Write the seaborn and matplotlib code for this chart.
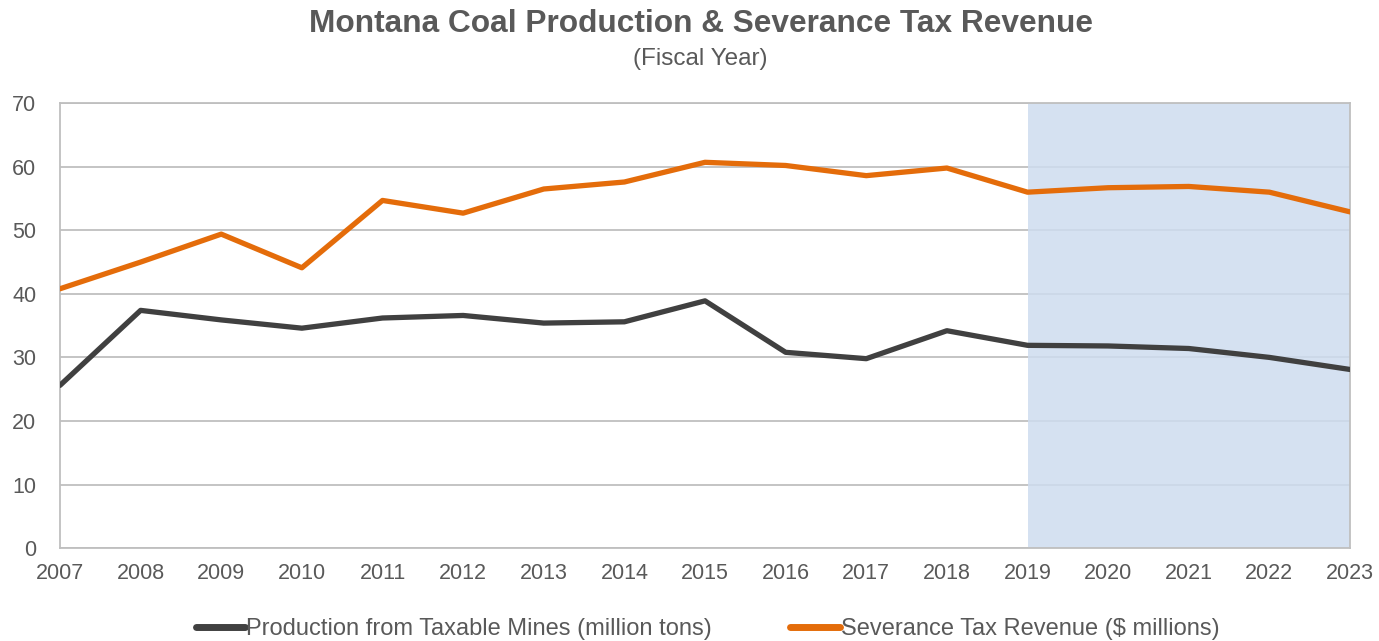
import matplotlib
matplotlib.use("Agg")
import matplotlib.pyplot as plt
import seaborn as sns
import pandas as pd

years = list(range(2007, 2024))
production = [25.6, 37.4, 35.9, 34.6, 36.2, 36.6, 35.4, 35.6, 38.9,
              30.8, 29.8, 34.2, 31.9, 31.8, 31.4, 30.0, 28.1]
severance = [40.8, 45.0, 49.4, 44.1, 54.7, 52.7, 56.5, 57.6, 60.7,
             60.2, 58.6, 59.8, 56.0, 56.7, 56.9, 56.0, 52.9]
prod_label = "Production from Taxable Mines (million tons)"
sev_label = "Severance Tax Revenue ($ millions)"
forecast_start, forecast_end = 2019, 2023

sns.set_theme(style="white")
plt.rcParams["font.family"] = ["Liberation Sans", "DejaVu Sans"]

text_color = "#595959"
grid_color = "#bfbfbf"

df = pd.DataFrame({"year": years, prod_label: production, sev_label: severance})

fig = plt.figure(figsize=(13.79, 6.41), dpi=100)
ax = fig.add_axes([0.0435, 0.145, 0.9355, 0.694])

ax.set_axisbelow(True)
ax.yaxis.grid(True, color=grid_color, linewidth=1.3, zorder=0)
# shaded projection years
ax.axvspan(forecast_start, forecast_end, color=(206/255, 220/255, 239/255),
           alpha=0.85, lw=0, zorder=1)

sns.lineplot(data=df, x="year", y=prod_label, ax=ax, color="#404040",
             linewidth=3.8, label=prod_label, zorder=3)
sns.lineplot(data=df, x="year", y=sev_label, ax=ax, color="#e46c0a",
             linewidth=3.8, label=sev_label, zorder=3)

ax.set_xlim(2007, 2023)
ax.set_ylim(0, 70)
ax.set_xticks(years)
ax.set_yticks(range(0, 71, 10))
ax.set_xlabel("")
ax.set_ylabel("")
ax.tick_params(axis="x", direction="inout", length=12, width=1.2,
               color=grid_color, labelsize=15.5, labelcolor=text_color, pad=5)
ax.tick_params(axis="y", length=0, labelsize=15.5, labelcolor=text_color, pad=17)
for side in ["left", "right", "top", "bottom"]:
    ax.spines[side].set_color(grid_color)
    ax.spines[side].set_linewidth(1.3)

fig.text(0.508, 0.962, "Montana Coal Production & Severance Tax Revenue",
         ha="center", va="center", fontsize=22.8, fontweight="bold", color=text_color)
fig.text(0.508, 0.908, "(Fiscal Year)", ha="center", va="center",
         fontsize=17.5, color=text_color)

leg = ax.legend(loc="center", bbox_to_anchor=(0.502, -0.183), ncol=2, frameon=False,
                fontsize=17, handlelength=2.1, handletextpad=0.05, columnspacing=3.3)
for line in leg.get_lines():
    line.set_linewidth(5)
for t in leg.get_texts():
    t.set_color(text_color)

fig.savefig("out.png", dpi=100, facecolor="white")
